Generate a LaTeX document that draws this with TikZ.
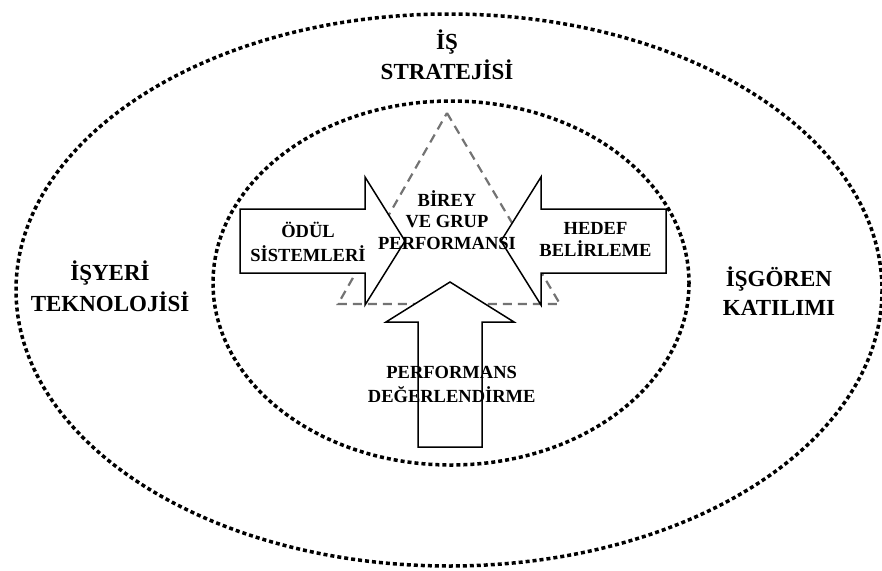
\documentclass[tikz,border=0pt]{standalone}
\usepackage{fontspec}
\setmainfont{Liberation Serif}
\begin{document}
\begin{tikzpicture}[x=1pt,y=-1pt,
  dotline/.style={line width=3.5pt,dash pattern=on 4pt off 3pt},
  outerlabel/.style={align=center,anchor=base,font=\fontsize{23}{30}\selectfont\bfseries},
  innerlabel/.style={align=center,anchor=base,font=\fontsize{18.5}{24.4}\selectfont\bfseries}]
\useasboundingbox (0,0) rectangle (882,570);
\newcommand{\bigarrow}[3]{
  \draw[line width=1.5pt,fill=white,shift={(#1,#2)},rotate=#3]
    (0,0) -- (-40,64) -- (-40,32) -- (-165,32) -- (-165,-32) -- (-40,-32) -- (-40,-64) -- cycle;
}

% outer and inner rings
\draw[dotline] (449,290) ellipse [x radius=433, y radius=276];
\draw[dotline] (451,283) ellipse [x radius=238, y radius=182];

% dashed triangle behind the arrows
\coordinate (tepe) at (447,113);
\coordinate (solkose) at (338,304);
\coordinate (sagkose) at (560,304);
\draw[gray!90!black,line width=2.2pt,dash pattern=on 9pt off 6pt] (tepe) -- (sagkose) -- (solkose) -- cycle;

% three block arrows: tip x, tip y, direction
\bigarrow{405}{241}{0}
\bigarrow{501}{241}{180}
\bigarrow{450}{282}{90}

% labels (anchored at the baseline of the last line)
\node[outerlabel] (strateji) at (447,79) {İŞ\\STRATEJİSİ};
\node[outerlabel,font=\fontsize{23}{31.7}\selectfont\bfseries] (teknoloji) at (110,311.7) {İŞYERİ\\TEKNOLOJİSİ};
\node[outerlabel,font=\fontsize{23}{29}\selectfont\bfseries] (katilim) at (779,315) {İŞGÖREN\\KATILIMI};
\node[innerlabel] (odul) at (308,261.7) {ÖDÜL\\SİSTEMLERİ};
\node[innerlabel,font=\fontsize{18.5}{22.7}\selectfont\bfseries] (hedef) at (595.5,256.7) {HEDEF\\BELİRLEME};
\node[innerlabel,font=\fontsize{18.5}{21.2}\selectfont\bfseries] (birey) at (447,249) {BİREY\\VE GRUP\\PERFORMANSI};
\node[innerlabel] (degerlendirme) at (451.7,402.7) {PERFORMANS\\DEĞERLENDİRME};
\end{tikzpicture}
\end{document}
